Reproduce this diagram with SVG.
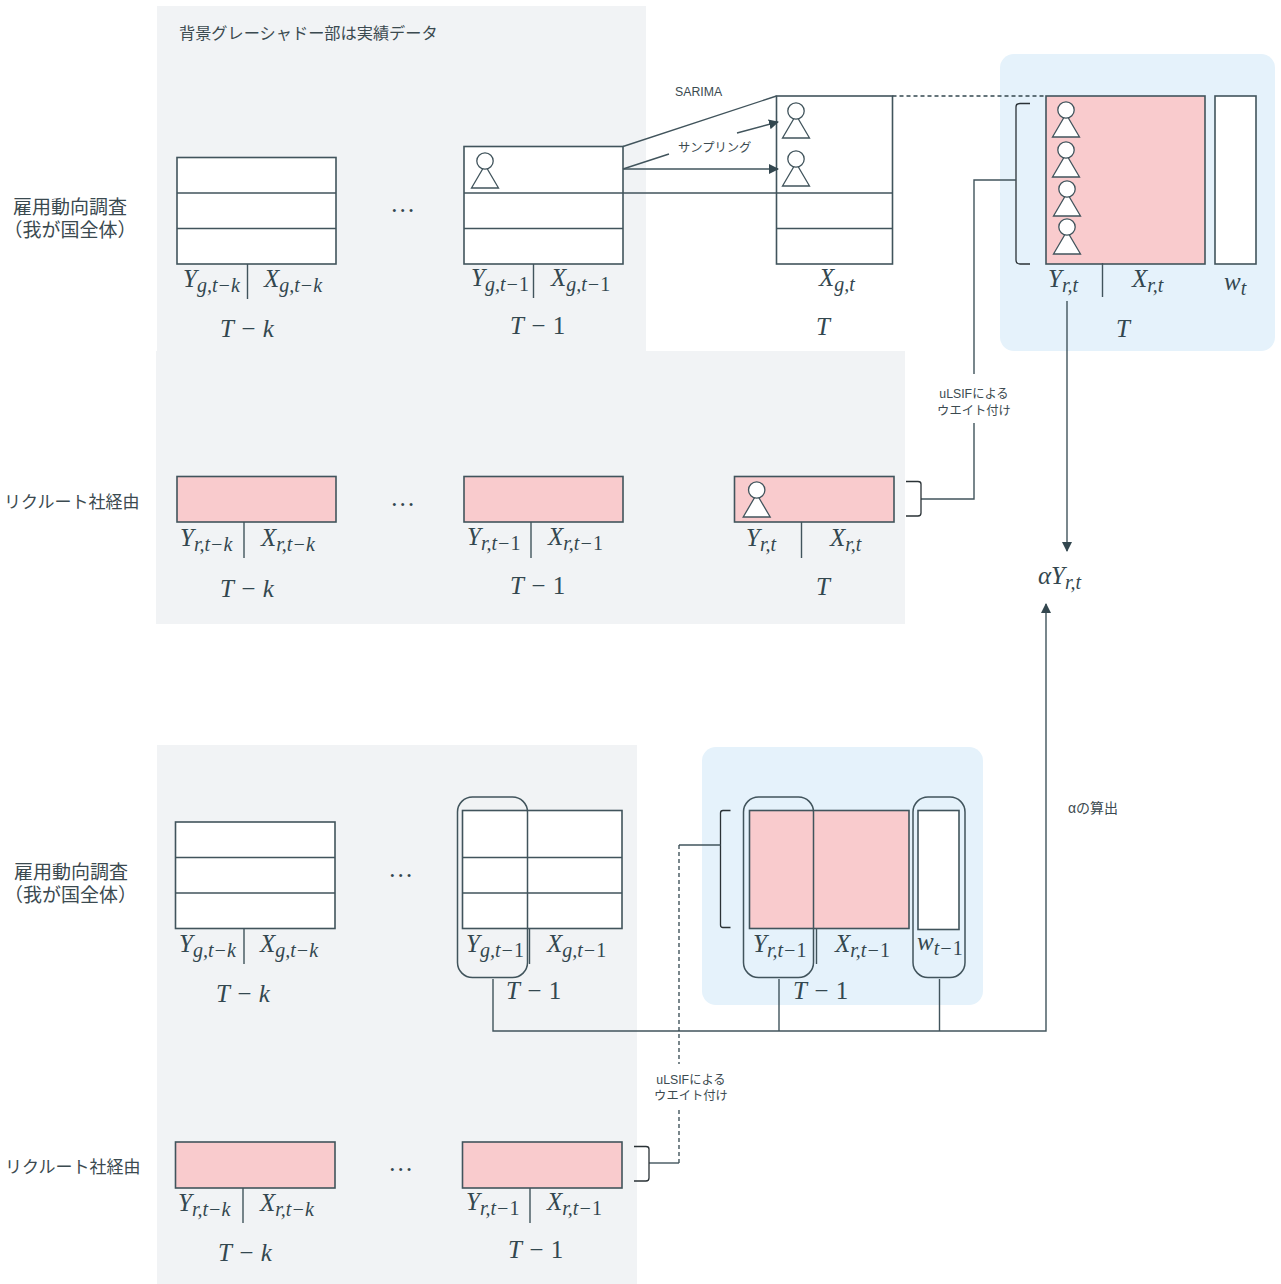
<svg xmlns="http://www.w3.org/2000/svg" width="1281" height="1284" viewBox="0 0 1281 1284">
<defs>
<style>
.bg{fill:#f1f3f5}.blue{fill:#e5f2fb}
.w{fill:#fff;stroke:#41545c;stroke-width:1.6}
.p{fill:#f9cbcd;stroke:#41545c;stroke-width:1.6}
.l{fill:none;stroke:#41545c;stroke-width:1.4}
.k{fill:none;stroke:#2a3236;stroke-width:1.3}
.d{fill:none;stroke:#33474f;stroke-width:1.3;stroke-dasharray:4 3}
.r{fill:none;stroke:#41545c;stroke-width:1.5}
.j{font-family:"Liberation Sans","Noto Sans CJK JP",sans-serif;fill:#3b4a50}
.t18{font-size:19px}.t17{font-size:17px}.t15{font-size:16.2px}.t12{font-size:12.3px}.t13{font-size:14px}
.m{font-family:"Liberation Serif",serif;font-style:italic;font-size:25px;fill:#33474f}
.s{font-size:20px}
.u{font-style:normal}
</style>
<marker id="a" viewBox="0 0 10 10" refX="9" refY="5" markerWidth="10" markerHeight="10" markerUnits="userSpaceOnUse" orient="auto"><path d="M0 0L10 5L0 10Z" fill="#33474f"/></marker>
<g id="person"><path d="M-13.5 27H13.5L0 4Z" fill="#fff" stroke="#41545c" stroke-width="1.3"/><circle r="8.200" fill="#fff" stroke="#41545c" stroke-width="1.3"/></g>
</defs>
<g id="backgrounds">
<path class="bg" d="M157 6H646V351H905V624H156V351H157Z"/>
<rect class="bg" x="157" y="745" width="480" height="539"/>
<rect class="blue" x="1000" y="54" width="275" height="297" rx="14"/>
<rect class="blue" x="702" y="747" width="281" height="258" rx="14"/>
</g>
<g id="tbl-g-tk"><rect class="w" x="177" y="157.500" width="159" height="106.500"/><path class="l" d="M177 193H336M177 228.500H336M247.500 264V299"/></g>
<g id="tbl-g-t1"><rect class="w" x="464" y="146.500" width="159" height="117.500"/><path class="l" d="M464 193H623M464 228.500H623M533.500 264V298"/><use href="#person" x="485" y="161"/></g>
<g id="tbl-g-t"><rect class="w" x="776.500" y="96" width="116" height="168"/><path class="l" d="M776.500 193H892.500M776.500 228.500H892.500"/><use href="#person" x="796" y="111"/><use href="#person" x="796" y="159"/></g>
<g id="tbl-r-t"><rect class="p" x="1046" y="96" width="159" height="168"/><rect class="w" x="1215" y="96" width="41" height="168"/><path class="l" d="M1102.500 263V297"/>
<use href="#person" x="1066" y="110"/><use href="#person" x="1066" y="150"/><use href="#person" x="1067" y="189"/><use href="#person" x="1067" y="227"/></g>
<g id="tbl-rr-tk"><rect class="p" x="177" y="476.500" width="159" height="45.500"/><path class="l" d="M244 522V558"/></g>
<g id="tbl-rr-t1"><rect class="p" x="464" y="476.500" width="159" height="45.500"/><path class="l" d="M531 522V558"/></g>
<g id="tbl-rr-t"><rect class="p" x="734.500" y="476.500" width="159.500" height="45.500"/><path class="l" d="M801.500 522V558"/><use href="#person" x="756.700" y="490"/></g>
<g id="low-g-tk"><rect class="w" x="175.500" y="822" width="159.500" height="106.500"/><path class="l" d="M175.500 857.500H335M175.500 893H335M244 928.500V964"/></g>
<g id="low-g-t1"><rect class="w" x="462.500" y="810.500" width="159.500" height="118"/><path class="l" d="M462.500 857.500H622M462.500 893H622M529.500 929V964"/><rect class="r" x="457.500" y="797" width="70" height="180.500" rx="15"/></g>
<g id="low-r-t1"><rect class="p" x="749.500" y="810.500" width="159.500" height="118"/><rect class="w" x="918" y="810.500" width="41" height="119"/><path class="l" d="M816.500 929V964"/><rect class="r" x="743.500" y="797" width="70" height="180.500" rx="15"/><rect class="r" x="913" y="797" width="52" height="180.500" rx="15"/></g>
<g id="low-rr-tk"><rect class="p" x="175.500" y="1142" width="159.500" height="46"/><path class="l" d="M243 1188V1223"/></g>
<g id="low-rr-t1"><rect class="p" x="462.500" y="1142" width="159.500" height="46"/><path class="l" d="M530 1188V1223"/></g>
<g id="connectors">
<path class="l" d="M623 146.500L776.500 96M623 193H776.500"/>
<path class="l" d="M623 169H778" marker-end="url(#a)"/>
<path class="l" d="M623 169L669 154M737 133L778 122" marker-end="url(#a)"/>
<path class="d" d="M892.500 96H1046"/>
<path class="k" d="M1030 103.500H1020Q1016 103.500 1016 107V260Q1016 264 1020 264H1030"/>
<path class="l" d="M1016 180H974V374M974 423V499H921"/>
<path class="k" d="M906 481.500H918Q921 481.500 921 484V513Q921 516 918 516H906"/>
<path class="l" d="M1067 301V551" marker-end="url(#a)"/>
<path class="l" d="M493 979V1031H1046V604" marker-end="url(#a)"/>
<path class="l" d="M779 979V1031M939.500 979V1031"/>
<path class="k" d="M730.500 810.500H723Q720.500 810.500 720.500 813V925Q720.500 927.500 723 927.500H730.500"/>
<path class="l" d="M720.500 845H679"/>
<path class="d" d="M679 845V1064M679 1110V1163"/>
<path class="l" d="M679 1163H649"/>
<path class="k" d="M634 1146.500H646Q649 1146.500 649 1149V1178Q649 1181 646 1181H634"/>
</g>
<g id="labels">
<text class="j t15" x="179" y="39">背景グレーシャドー部は実績データ</text>
<text class="j t18" x="13" y="214">雇用動向調査<tspan x="3.500" dy="22.500">（我が国全体）</tspan></text>
<text class="j t17" x="4" y="508">リクルート社経由</text>
<text class="j t18" x="14" y="879">雇用動向調査<tspan x="4" dy="23">（我が国全体）</tspan></text>
<text class="j t17" x="5" y="1173">リクルート社経由</text>
<text class="j t12" x="675" y="96">SARIMA</text>
<text class="j t12" x="678" y="152">サンプリング</text>
<text class="j t12" x="974" y="398" text-anchor="middle">uLSIFによる</text>
<text class="j t12" x="974" y="415" text-anchor="middle">ウエイト付け</text>
<text class="j t12" x="691" y="1084" text-anchor="middle">uLSIFによる</text>
<text class="j t12" x="691" y="1100" text-anchor="middle">ウエイト付け</text>
<text class="j t13" x="1068" y="813">αの算出</text>
<text class="m" x="392" y="212">…</text><text class="m" x="392" y="506">…</text><text class="m" x="390" y="877">…</text><text class="m" x="390" y="1171">…</text>
<text class="m" x="183" y="287">Y<tspan class="s" dy="5">g,t−k</tspan></text>
<text class="m" x="264" y="287">X<tspan class="s" dy="5">g,t−k</tspan></text>
<text class="m" x="220" y="337">T − k</text>
<text class="m" x="471" y="286">Y<tspan class="s" dy="5">g,t−<tspan class="u">1</tspan></tspan></text>
<text class="m" x="551" y="286">X<tspan class="s" dy="5">g,t−<tspan class="u">1</tspan></tspan></text>
<text class="m" x="510" y="334">T − <tspan class="u">1</tspan></text>
<text class="m" x="819" y="286">X<tspan class="s" dy="5">g,t</tspan></text>
<text class="m" x="816" y="335">T</text>
<text class="m" x="1048" y="287">Y<tspan class="s" dy="5">r,t</tspan></text>
<text class="m" x="1132" y="287">X<tspan class="s" dy="5">r,t</tspan></text>
<text class="m" x="1224" y="290">w<tspan class="s" dy="5">t</tspan></text>
<text class="m" x="1116" y="337">T</text>
<text class="m" x="180" y="546">Y<tspan class="s" dy="5">r,t−k</tspan></text>
<text class="m" x="261" y="546">X<tspan class="s" dy="5">r,t−k</tspan></text>
<text class="m" x="220" y="597">T − k</text>
<text class="m" x="467" y="545">Y<tspan class="s" dy="5">r,t−<tspan class="u">1</tspan></tspan></text>
<text class="m" x="548" y="545">X<tspan class="s" dy="5">r,t−<tspan class="u">1</tspan></tspan></text>
<text class="m" x="510" y="594">T − <tspan class="u">1</tspan></text>
<text class="m" x="746" y="546">Y<tspan class="s" dy="5">r,t</tspan></text>
<text class="m" x="830" y="546">X<tspan class="s" dy="5">r,t</tspan></text>
<text class="m" x="816" y="595">T</text>
<text class="m" x="1038" y="584">αY<tspan class="s" dy="5">r,t</tspan></text>
<text class="m" x="179" y="952">Y<tspan class="s" dy="5">g,t−k</tspan></text>
<text class="m" x="260" y="952">X<tspan class="s" dy="5">g,t−k</tspan></text>
<text class="m" x="216" y="1002">T − k</text>
<text class="m" x="466" y="952">Y<tspan class="s" dy="5">g,t−<tspan class="u">1</tspan></tspan></text>
<text class="m" x="547" y="952">X<tspan class="s" dy="5">g,t−<tspan class="u">1</tspan></tspan></text>
<text class="m" x="506" y="999">T − <tspan class="u">1</tspan></text>
<text class="m" x="753" y="952">Y<tspan class="s" dy="5">r,t−<tspan class="u">1</tspan></tspan></text>
<text class="m" x="835" y="952">X<tspan class="s" dy="5">r,t−<tspan class="u">1</tspan></tspan></text>
<text class="m" x="917" y="950">w<tspan class="s" dy="5">t−<tspan class="u">1</tspan></tspan></text>
<text class="m" x="793" y="999">T − <tspan class="u">1</tspan></text>
<text class="m" x="178" y="1211">Y<tspan class="s" dy="5">r,t−k</tspan></text>
<text class="m" x="260" y="1211">X<tspan class="s" dy="5">r,t−k</tspan></text>
<text class="m" x="218" y="1261">T − k</text>
<text class="m" x="466" y="1210">Y<tspan class="s" dy="5">r,t−<tspan class="u">1</tspan></tspan></text>
<text class="m" x="547" y="1210">X<tspan class="s" dy="5">r,t−<tspan class="u">1</tspan></tspan></text>
<text class="m" x="508" y="1258">T − <tspan class="u">1</tspan></text>
</g>
</svg>
